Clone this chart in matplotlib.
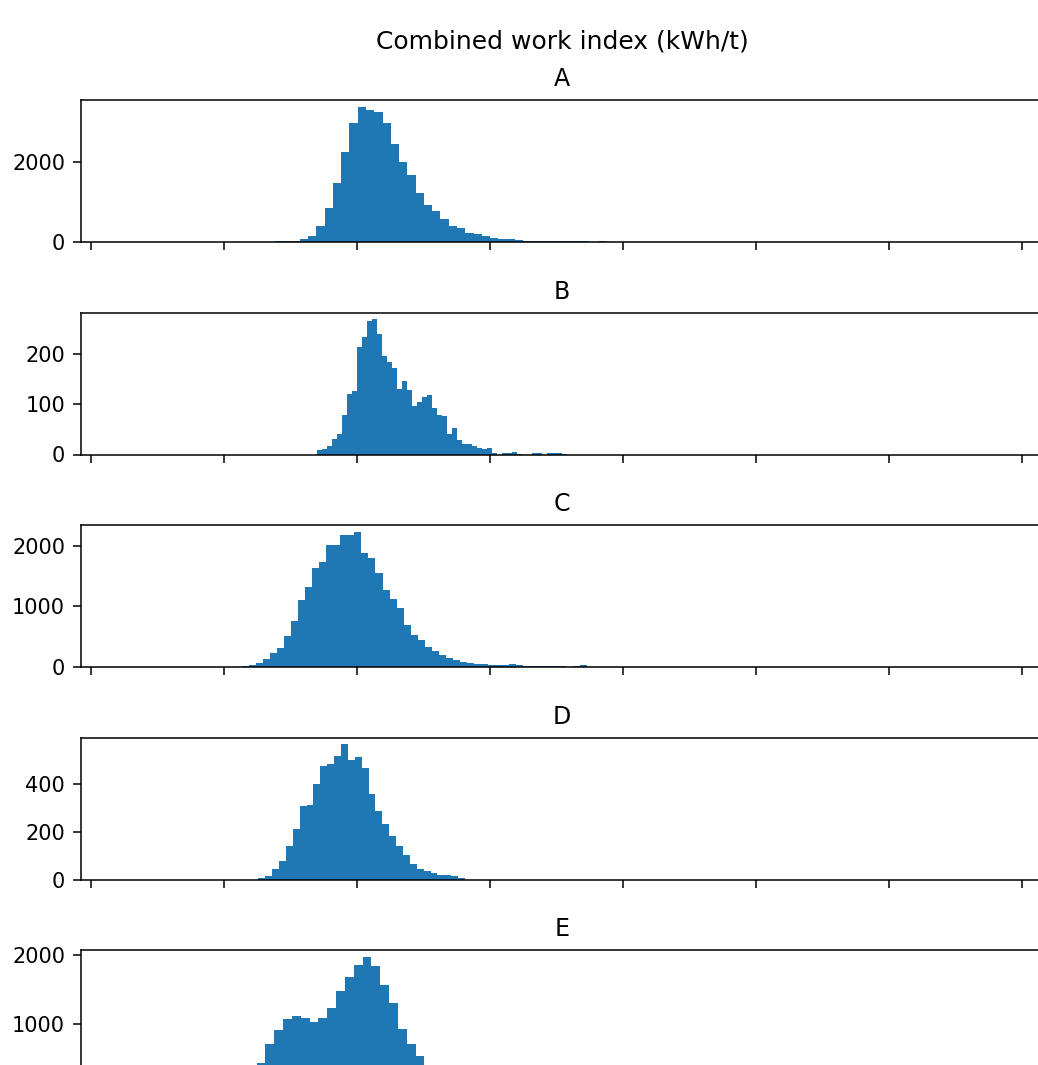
import numpy as np
import matplotlib.pyplot as plt

# panel names
groups = ['A', 'B', 'C', 'D', 'E']

# histogram counts per group
a_counts = [20, 20, 30, 67, 150, 400, 850, 1475, 2250, 2960, 3375, 3290, 3250, 2960,
            2458, 2000, 1667, 1225, 933, 767, 567, 392, 350, 233, 200, 142, 100, 83,
            67, 50, 30, 28, 25, 25, 22, 20, 18, 15, 0, 30]
b_counts = [8, 10, 16, 30, 40, 78, 120, 127, 215, 234, 267, 270, 240, 197, 185, 173,
            130, 147, 128, 97, 104, 114, 118, 93, 78, 76, 40, 52, 28, 20, 20, 16, 13,
            11, 13, 3, 0, 3, 3, 5, 1, 0, 0, 3, 2, 0, 3, 3, 2, 1]
c_counts = [17, 39, 66, 138, 231, 314, 507, 755, 1102, 1322, 1625, 1736, 2011, 2011,
            2176, 2176, 2231, 1873, 1791, 1554, 1267, 1130, 975, 700, 534, 452, 331,
            259, 193, 149, 110, 83, 66, 55, 44, 39, 28, 28, 50, 28, 22, 22, 22, 22, 22,
            11, 6, 11, 28]
d_counts = [6, 14, 42, 77, 139, 209, 305, 309, 399, 473, 483, 515, 564, 497, 511, 466,
            356, 286, 230, 181, 139, 104, 66, 45, 35, 27, 20, 17, 14, 8]
e_counts = [15, 40, 110, 240, 422, 701, 912, 1059, 1108, 1078, 1029, 1078, 1225, 1471,
            1681, 1853, 1975, 1843, 1569, 1304, 922, 701, 529, 350, 220, 140, 90, 55,
            35, 20, 12, 6, 3]

# first bin edge and bin width (kWh/t) for each group
bin_start = [6.917, 8.485, 5.665, 6.29, 4.90]
bin_width = [0.311, 0.188, 0.2647, 0.259, 0.332]

# y tick values per panel (E's zero sits below the visible area)
y_ticks = [[0, 2000], [0, 100, 200], [0, 1000, 2000], [0, 200, 400], [1000, 2000]]
x_ticks = [0, 5, 10, 15, 20, 25, 30, 35]

counts = [a_counts, b_counts, c_counts, d_counts, e_counts]

W, H = 1038, 1065
fig = plt.figure(figsize=(W / 100, H / 100), dpi=100)

left, width, height = 81, 962, 142
tops = [100, 312.5, 525, 737.5, 950]

axes = []
for i, name in enumerate(groups):
    top = tops[i]
    ax = fig.add_axes([left / W, 1 - (top + height) / H, width / W, height / H],
                      sharex=axes[0] if axes else None)
    axes.append(ax)

    c = np.array(counts[i], dtype=float)
    edges = bin_start[i] + bin_width[i] * np.arange(len(c) + 1)
    ax.hist(edges[:-1], bins=edges, weights=c, color='#1f77b4')

    ax.set_title(name, fontsize=17, pad=10)
    ax.set_yticks(y_ticks[i])
    ax.tick_params(labelsize=15, length=5.5, width=1.1, pad=6)
    ax.tick_params(labelbottom=False)
    for sp in ax.spines.values():
        sp.set_linewidth(1.1)

axes[0].set_xticks(x_ticks)
axes[0].set_xlim(-0.376, 35.79)

fig.suptitle('Combined work index (kWh/t)', x=(left + width / 2) / W,
             y=1 - 42 / H, va='center', fontsize=18)

fig.savefig('out.png', dpi=100)
